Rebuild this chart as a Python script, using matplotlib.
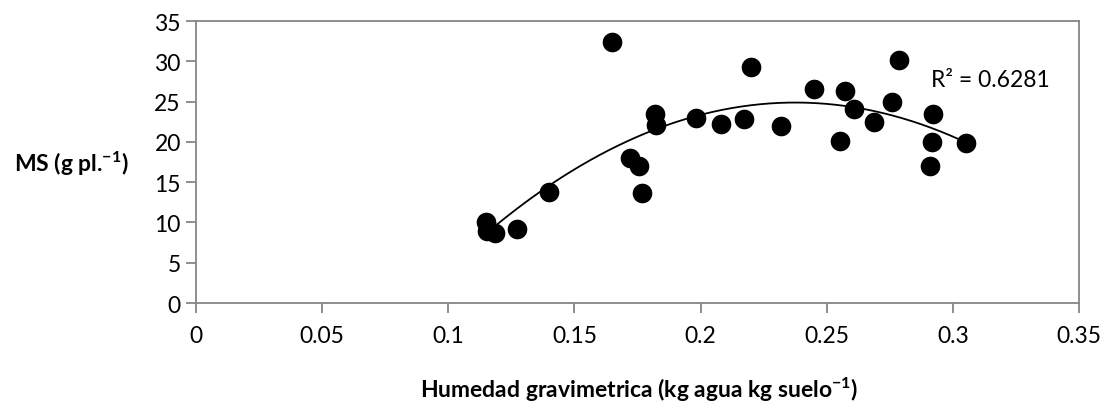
import numpy as np
import matplotlib
matplotlib.use("Agg")
import matplotlib.pyplot as plt

# humedad gravimetrica (kg/kg) y materia seca por planta (g)
humedad = [0.1148, 0.1155, 0.1185, 0.1271, 0.140, 0.165, 0.172, 0.1757,
           0.1766, 0.182, 0.1822, 0.1982, 0.208, 0.2172, 0.2198, 0.2317,
           0.2448, 0.2554, 0.2571, 0.2609, 0.2687, 0.2757, 0.2785, 0.2922,
           0.2918, 0.2909, 0.3052]
ms = [10.1, 9.0, 8.65, 9.2, 13.8, 32.4, 18.0, 17.0,
      13.7, 23.4, 22.1, 23.0, 22.2, 22.9, 29.3, 22.0,
      26.6, 20.1, 26.3, 24.1, 22.5, 24.9, 30.1, 23.4,
      20.0, 17.0, 19.85]
r2_label = "R² = 0.6281"

xticks = [0, 0.05, 0.1, 0.15, 0.2, 0.25, 0.3, 0.35]
xticklabels = ["0", "0.05", "0.1", "0.15", "0.2", "0.25", "0.3", "0.35"]
yticks = [0, 5, 10, 15, 20, 25, 30, 35]

plt.rcParams['font.family'] = ['Lato', 'DejaVu Sans']
plt.rcParams['mathtext.fontset'] = 'custom'
plt.rcParams['mathtext.rm'] = 'Lato'
plt.rcParams['mathtext.bf'] = 'Lato:bold'

gray = '#868686'
fs = 16.5

fig = plt.figure(figsize=(11.12, 4.10), dpi=100)
ax = fig.add_axes([0.1763, 0.2585, 0.794, 0.6878])

ax.scatter(humedad, ms, s=200, color='black', zorder=3, linewidths=0)

# tendencia polinomica de orden 2
coef = np.polyfit(humedad, ms, 2)
xs = np.linspace(min(humedad) + 0.004, max(humedad), 200)
ax.plot(xs, np.polyval(coef, xs), color='black', lw=1.3, zorder=2)

ax.text(0.2913, 27.8, r2_label, fontsize=fs, va='center', ha='left')

ax.set_xlim(0, 0.35)
ax.set_ylim(0, 35)
ax.set_xticks(xticks)
ax.set_xticklabels(xticklabels)
ax.set_yticks(yticks)

for s in ax.spines.values():
    s.set_color(gray)
    s.set_linewidth(1.3)
ax.tick_params(axis='both', colors=gray, labelcolor='black', labelsize=fs,
               direction='out', length=7, width=1.3)
ax.tick_params(axis='x', pad=9)
ax.tick_params(axis='y', pad=4)

fig.text(0.064, 0.60, r"MS (g pl.$\mathbf{^{-1}}$)", fontsize=fs,
         fontweight='bold', ha='center', va='center')
fig.text(0.575, 0.05, r"Humedad gravimetrica (kg agua kg suelo$\mathbf{^{-1}}$)",
         fontsize=fs, fontweight='bold', ha='center', va='center')

fig.savefig("out.png", dpi=100)
